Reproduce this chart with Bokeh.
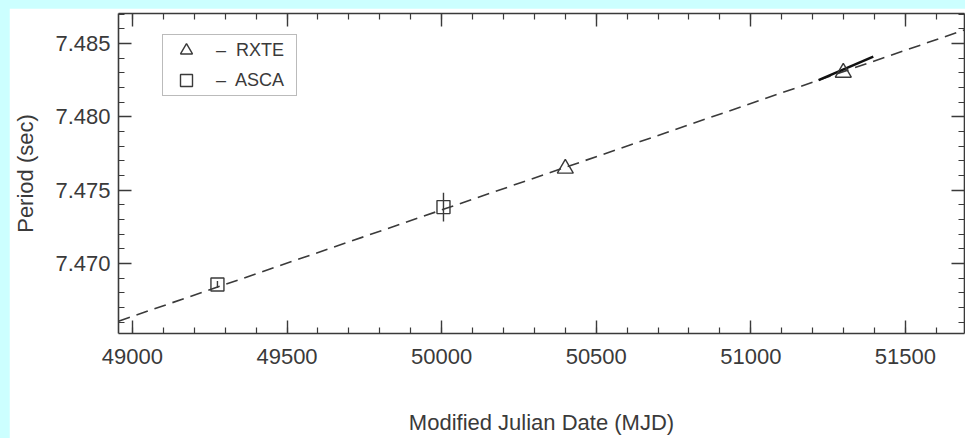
from bokeh.plotting import figure
from bokeh.layouts import column
from bokeh.models import (Range1d, LinearAxis, FixedTicker, PrintfTickFormatter,
                          Legend, LegendItem, Whisker, ColumnDataSource)
from bokeh.embed import file_html
from bokeh.resources import INLINE

# Spin period measurements
rxte_mjd = [50400, 51299]
rxte_period = [7.47648, 7.48302]

asca_mjd = [49275, 50006]
asca_period = [7.46857, 7.47385]
asca_err = [0.00024, 0.00098]

# Local period-derivative segment from the second RXTE observation
pdot_mjd = [51219, 51396]
pdot_period = [7.48251, 7.48411]

# Linear spin-down fit
fit_mjd = [48955, 51691]
fit_period = [7.46607, 7.48593]

x_ticks = [49000, 49500, 50000, 50500, 51000, 51500]
x_minor = [m for m in range(48900, 51800, 100)]
y_ticks = [7.470, 7.475, 7.480, 7.485]
y_minor = [round(7.465 + 0.001 * i, 3) for i in range(0, 23)]

FONT = "Liberation Sans"
INK = "#3a3a3a"

p = figure(width=956, height=430, output_backend="svg", toolbar_location=None,
           x_range=Range1d(48955, 51691), y_range=Range1d(7.46523, 7.48705),
           x_axis_type=None, y_axis_type=None,
           min_border_left=109, min_border_right=1, min_border_top=5,
           min_border_bottom=105, background_fill_color="white",
           border_fill_color="white", outline_line_color=None)
p.margin = (8, 0, 0, 9)
p.xgrid.visible = False
p.ygrid.visible = False

xt = FixedTicker(ticks=x_ticks, minor_ticks=x_minor)
yt = FixedTicker(ticks=y_ticks, minor_ticks=y_minor)


def style_axis(ax, labels=True):
    ax.axis_line_color = INK
    ax.axis_line_width = 1.6
    ax.major_tick_line_color = INK
    ax.minor_tick_line_color = INK
    ax.major_tick_line_width = 1.4
    ax.minor_tick_line_width = 1.2
    ax.major_tick_in = 13
    ax.major_tick_out = 0
    ax.minor_tick_in = 6
    ax.minor_tick_out = 0
    if labels:
        ax.major_label_text_font = FONT
        ax.major_label_text_font_size = "22px"
        ax.major_label_text_color = INK
        ax.axis_label_text_font = FONT
        ax.axis_label_text_font_size = "22px"
        ax.axis_label_text_font_style = "normal"
        ax.axis_label_text_color = INK


def mirror_axis(ticks, ticker):
    # tick marks only, no labels, for the opposite side of the frame
    ax = LinearAxis(ticker=ticker)
    style_axis(ax, labels=False)
    ax.major_label_overrides = {t: "" for t in ticks}
    ax.major_label_text_font_size = "1px"
    ax.major_label_standoff = 0
    return ax


xb = LinearAxis(ticker=xt, axis_label="Modified Julian Date (MJD)")
style_axis(xb)
xb.major_label_standoff = 15
xb.axis_label_standoff = 43
p.add_layout(xb, "below")

yl = LinearAxis(ticker=yt, axis_label="Period (sec)",
                formatter=PrintfTickFormatter(format="%.3f"))
style_axis(yl)
yl.major_label_standoff = 8
yl.axis_label_standoff = 14
p.add_layout(yl, "left")

p.add_layout(mirror_axis(x_ticks, xt), "above")
p.add_layout(mirror_axis(y_ticks, yt), "right")

# Fit line
p.line(fit_mjd, fit_period, line_color=INK, line_width=1.6, line_dash="12 7")

# Pdot segment
p.line(pdot_mjd, pdot_period, line_color="#111111", line_width=2.6)

# ASCA error bars
asca_src = ColumnDataSource(dict(
    x=asca_mjd, y=asca_period,
    lo=[v - e for v, e in zip(asca_period, asca_err)],
    hi=[v + e for v, e in zip(asca_period, asca_err)]))
p.add_layout(Whisker(source=asca_src, base="x", lower="lo", upper="hi",
                     line_color=INK, line_width=1.4,
                     upper_head=None, lower_head=None))

r_rxte = p.scatter(rxte_mjd, rxte_period, marker="triangle", size=16,
                   fill_color=None, line_color=INK, line_width=1.4)
r_asca = p.scatter(asca_mjd, asca_period, marker="square", size=13,
                   fill_color=None, line_color=INK, line_width=1.4)

legend = Legend(items=[LegendItem(label="\u2013  RXTE", renderers=[r_rxte]),
                       LegendItem(label="\u2013  ASCA", renderers=[r_asca])],
                location=(44, 237), orientation="vertical",
                padding=0, spacing=0, glyph_width=46, glyph_height=30,
                label_standoff=7, label_width=80, label_text_font=FONT,
                label_text_font_size="18px", label_text_color=INK,
                border_line_color="#777777", border_line_width=1.2,
                background_fill_color="white", background_fill_alpha=1.0)
p.add_layout(legend)

page = column(p, width=965, height=438,
              styles={"background-color": "#ccffff"})

open("out.html", "w").write(file_html(page, INLINE))
